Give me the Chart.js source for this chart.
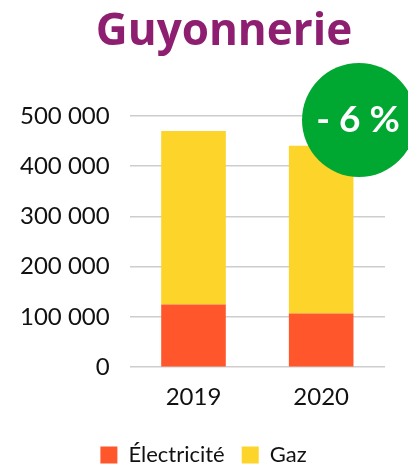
<!DOCTYPE html>
<html>
<head>
<meta charset="utf-8">
<script src="https://cdn.jsdelivr.net/npm/chart.js@4/dist/chart.umd.min.js"></script>
<style>
  html, body { margin: 0; padding: 0; background: #fff; }
  #wrap { width: 408px; height: 465px; }
</style>
</head>
<body>
<div id="wrap"><canvas id="chart" width="408" height="465"></canvas></div>
<script>
const years = ["2019", "2020"]
const electricite = [125000, 107000]
const gaz = [345000, 334000]
const yTicks = [0, 100000, 200000, 300000, 400000, 500000]
const titleText = "Guyonnerie"
const badgeText = "- 6 %"

const formatNumber = (v) => String(v).replace(/\B(?=(\d{3})+(?!\d))/g, " ")

// title and the green round badge, drawn over the chart
const decorPlugin = {
  id: "decor",
  afterLayout(chart) {
    // legend sits a little right of the plot centre in the original
    chart.legend.left += 11
    chart.legend.right += 11
  },
  afterDraw(chart) {
    const ctx = chart.ctx
    const area = chart.chartArea
    ctx.save()
    ctx.fillStyle = "#8e1e70"
    ctx.font = "bold 44px 'Open Sans'"
    ctx.textAlign = "center"
    ctx.textBaseline = "alphabetic"
    ctx.fillText(titleText, 224, 45)

    const cx = area.right - 26
    const cy = area.top + 4
    ctx.fillStyle = "#00a832"
    ctx.beginPath()
    ctx.arc(cx, cy, 57, 0, Math.PI * 2)
    ctx.fill()
    ctx.fillStyle = "#fff"
    ctx.font = "bold 37px Lato"
    ctx.textAlign = "center"
    ctx.fillText(badgeText, cx - 1, cy + 12)
    ctx.restore()
  }
}

new Chart(document.getElementById("chart"), {
  type: "bar",
  data: {
    labels: years,
    datasets: [
      { label: "Électricité", data: electricite, backgroundColor: "#ff572b" },
      { label: "Gaz", data: gaz, backgroundColor: "#fdd42a" }
    ]
  },
  options: {
    responsive: false,
    animation: false,
    layout: { padding: { left: 0, right: 23, top: 116, bottom: -11 } },
    datasets: { bar: { barPercentage: 0.506, categoryPercentage: 1 } },
    scales: {
      x: {
        stacked: true,
        grid: { display: false },
        border: { display: false },
        ticks: { color: "#111", font: { family: "Lato", size: 24 }, padding: 8 },
        afterFit: (axis) => { axis.height += 7 }
      },
      y: {
        stacked: true,
        min: 0,
        max: 500000,
        afterBuildTicks: (axis) => { axis.ticks = yTicks.map((value) => ({ value })) },
        grid: { color: "#cdcdcd", lineWidth: 1.5, drawTicks: false },
        border: { display: false },
        ticks: {
          color: "#111",
          font: { family: "Lato", size: 24 },
          padding: 20,
          callback: (value) => formatNumber(value)
        }
      }
    },
    plugins: {
      title: { display: false },
      legend: {
        position: "bottom",
        labels: {
          color: "#111",
          font: { family: "Lato", size: 22 },
          boxWidth: 17,
          boxHeight: 17,
          padding: 17
        }
      },
      tooltip: { enabled: false }
    }
  },
  plugins: [decorPlugin]
})
</script>
</body>
</html>
